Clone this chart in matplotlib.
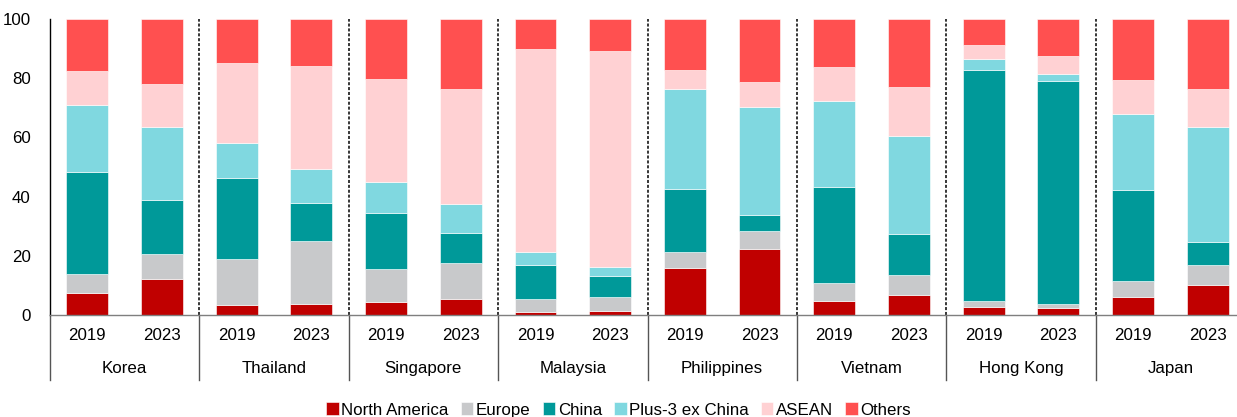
import numpy as np
import matplotlib
matplotlib.use("Agg")
import matplotlib.pyplot as plt
import matplotlib.transforms as mtransforms

plt.rcParams['font.family'] = ['Liberation Sans', 'DejaVu Sans']

countries = ['Korea', 'Thailand', 'Singapore', 'Malaysia', 'Philippines',
             'Vietnam', 'Hong Kong', 'Japan']
years = ['2019', '2023']

# shares (%) per bar, order: Korea 2019, Korea 2023, Thailand 2019, ...
north_america = [7.4, 12.3, 3.4, 3.8, 4.3, 5.4, 1.1, 1.4,
                 15.8, 22.4, 4.8, 6.7, 2.7, 2.3, 6.1, 10.3]
europe = [6.5, 8.3, 15.4, 21.3, 11.4, 12.3, 4.2, 4.6,
          5.4, 6.1, 6.0, 6.7, 1.9, 1.4, 5.5, 6.7]
china = [34.4, 18.3, 27.5, 12.6, 18.7, 10.0, 11.7, 7.1,
         21.3, 5.2, 32.4, 13.9, 78.2, 75.3, 30.6, 7.6]
plus3_ex_china = [22.5, 24.7, 11.8, 11.5, 10.7, 9.8, 4.4, 3.2,
                  33.8, 36.5, 29.1, 33.1, 3.7, 2.3, 25.7, 39.0]
asean = [11.7, 14.4, 26.9, 34.9, 34.7, 38.8, 68.6, 72.9,
         6.6, 8.6, 11.4, 16.6, 4.8, 6.1, 11.4, 12.6]
others = [17.5, 22.0, 15.0, 15.9, 20.2, 23.7, 10.0, 10.8,
          17.1, 21.2, 16.3, 23.0, 8.7, 12.6, 20.7, 23.8]

series = [('North America', north_america, '#C00000'),
          ('Europe', europe, '#C8C9CB'),
          ('China', china, '#009999'),
          ('Plus-3 ex China', plus3_ex_china, '#80D8E0'),
          ('ASEAN', asean, '#FFD1D3'),
          ('Others', others, '#FF5050')]

fs = 12.2

fig = plt.figure(figsize=(12.37, 4.17), dpi=100)
ax = fig.add_axes([50 / 1237, 102 / 417, 1195 / 1237, 296 / 417])

x = np.arange(len(countries) * len(years))
bottom = np.zeros(len(x))
for name, vals, col in series:
    vals = np.array(vals)
    ax.bar(x, vals, width=0.56, bottom=bottom, color=col, label=name,
           edgecolor='white', linewidth=0.4)
    bottom += vals

ax.set_xlim(-0.5, len(x) - 0.5)
ax.set_ylim(0, 100)
ax.set_yticks([0, 20, 40, 60, 80, 100])
ax.tick_params(axis='y', length=0, pad=14, labelsize=fs)
ax.set_xticks([])

for s in ['top', 'right']:
    ax.spines[s].set_visible(False)
ax.spines['left'].set_color('black')
ax.spines['left'].set_linewidth(1)
ax.spines['bottom'].set_color('#7f7f7f')
ax.spines['bottom'].set_linewidth(1)

# dashed separators between countries
for k in range(1, len(countries)):
    ax.plot([2 * k - 0.5, 2 * k - 0.5], [0, 100], color='black',
            linestyle=(0, (2, 1.2)), linewidth=1.1)

# two-level category axis below
trans = mtransforms.blended_transform_factory(ax.transData, ax.transAxes)
for k in range(len(countries) + 1):
    ax.plot([2 * k - 0.5, 2 * k - 0.5], [0, -0.22], color='#555555',
            linewidth=1, transform=trans, clip_on=False)
for i, xi in enumerate(x):
    ax.text(xi, -0.068, years[i % 2], transform=trans, ha='center',
            va='center', fontsize=fs)
for k, c in enumerate(countries):
    ax.text(2 * k + 0.5, -0.18, c, transform=trans, ha='center',
            va='center', fontsize=fs)

fig.legend(loc='center', bbox_to_anchor=(0.5, 1 - 410 / 417), ncol=6,
           frameon=False, handlelength=0.75, handleheight=0.75,
           handletextpad=0.15, columnspacing=0.7, fontsize=fs)

fig.savefig('out.png', dpi=100)
